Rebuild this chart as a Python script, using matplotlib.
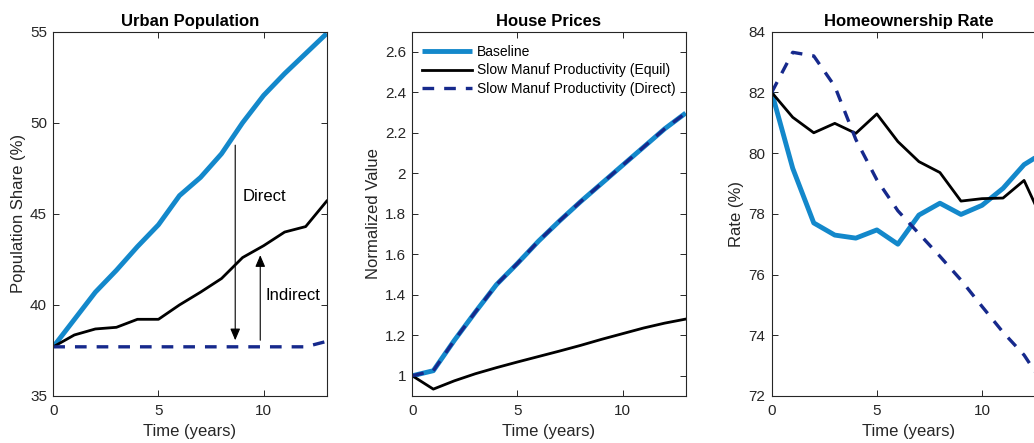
import matplotlib
matplotlib.use("Agg")
import matplotlib.pyplot as plt
import numpy as np

plt.rcParams["font.family"] = ["Liberation Sans", "DejaVu Sans"]

years = np.arange(14)

# urban population share (%)
urban_base = [37.7, 39.2, 40.7, 41.9, 43.2, 44.4, 46.0, 47.0, 48.3, 50.0, 51.5, 52.7, 53.8, 54.9]
urban_equil = [37.7, 38.35, 38.68, 38.77, 39.21, 39.21, 40.0, 40.7, 41.45, 42.6, 43.25, 44.0, 44.3, 45.7]
urban_direct = [37.7, 37.7, 37.7, 37.7, 37.7, 37.7, 37.7, 37.7, 37.7, 37.7, 37.7, 37.7, 37.7, 38.0]

# house prices, normalized to year 0
price_base = [1.0, 1.025, 1.175, 1.315, 1.45, 1.555, 1.665, 1.765, 1.86, 1.95, 2.04, 2.13, 2.22, 2.298]
price_equil = [1.0, 0.934, 0.975, 1.01, 1.04, 1.068, 1.095, 1.122, 1.15, 1.18, 1.208, 1.236, 1.26, 1.28]
price_direct = price_base

# homeownership rate (%)
own_base = [82.0, 79.5, 77.7, 77.3, 77.2, 77.47, 77.0, 77.96, 78.35, 77.98, 78.28, 78.84, 79.62, 80.05]
own_equil = [82.0, 81.18, 80.67, 80.98, 80.65, 81.29, 80.38, 79.72, 79.36, 78.42, 78.5, 78.52, 79.1, 77.6]
own_direct = [82.0, 83.32, 83.2, 82.2, 80.45, 79.12, 78.1, 77.35, 76.6, 75.82, 74.95, 74.1, 73.35, 72.3]

BASE_C = "#1388cb"
EQUIL_C = "black"
DIRECT_C = "#16298c"
TEXT_C = "#262626"

panels = [
    ("Urban Population", "Population Share (%)", urban_base, urban_equil, urban_direct,
     (35, 55), np.arange(35, 56, 5), None),
    ("House Prices", "Normalized Value", price_base, price_equil, price_direct,
     (0.9, 2.7), np.arange(1.0, 2.61, 0.2),
     ["1", "1.2", "1.4", "1.6", "1.8", "2", "2.2", "2.4", "2.6"]),
    ("Homeownership Rate", "Rate (%)", own_base, own_equil, own_direct,
     (72, 84), np.arange(72, 85, 2), None),
]

fig = plt.figure(figsize=(10.34, 4.43), dpi=100)
lefts = [0.05155, 0.39874, 0.74632]
axes = [fig.add_axes([l, 0.1061, 0.26441, 0.8224]) for l in lefts]

for ax, (title, ylab, base, equil, direct, ylim, yt, ytl) in zip(axes, panels):
    ax.plot(years, base, color=BASE_C, lw=3.5, label="Baseline", solid_capstyle="butt")
    ax.plot(years, equil, color=EQUIL_C, lw=2.0, label="Slow Manuf Productivity (Equil)")
    ax.plot(years, direct, color=DIRECT_C, lw=2.4, ls=(0, (3.5, 3.0)),
            label="Slow Manuf Productivity (Direct)")
    ax.set_xlim(0, 13)
    ax.set_ylim(*ylim)
    ax.set_xticks([0, 5, 10])
    ax.set_yticks(yt)
    if ytl is not None:
        ax.set_yticklabels(ytl)
    ax.set_title(title, fontsize=12, fontweight="bold", pad=4)
    ax.set_xlabel("Time (years)", fontsize=12, color=TEXT_C, labelpad=4)
    ax.set_ylabel(ylab, fontsize=12, color=TEXT_C, labelpad=3)
    ax.tick_params(direction="in", top=True, right=True, length=4, width=0.7,
                   labelsize=11, colors=TEXT_C)
    ax.tick_params(axis="x", pad=6)
    ax.tick_params(axis="y", pad=4.5)
    for sp in ax.spines.values():
        sp.set_color(TEXT_C)
        sp.set_linewidth(0.8)

# decomposition arrows on the urban population panel
ax = axes[0]
ax.annotate("", xy=(8.65, 38.06), xytext=(8.65, 48.77),
            arrowprops=dict(arrowstyle="-|>,head_length=0.7,head_width=0.3",
                            color="black", lw=0.8, shrinkA=0, shrinkB=0))
ax.annotate("", xy=(9.84, 42.73), xytext=(9.84, 38.06),
            arrowprops=dict(arrowstyle="-|>,head_length=0.7,head_width=0.3",
                            color="black", lw=0.8, shrinkA=0, shrinkB=0))
ax.text(9.02, 45.93, "Direct", fontsize=12, va="center", ha="left")
ax.text(10.08, 40.5, "Indirect", fontsize=12, va="center", ha="left")

axes[1].legend(loc="upper left", frameon=False, fontsize=10, handlelength=3.6,
               handletextpad=0.35, labelspacing=0.32, borderaxespad=0.3,
               bbox_to_anchor=(0.0, 0.99))

fig.savefig("out.png", dpi=100)
